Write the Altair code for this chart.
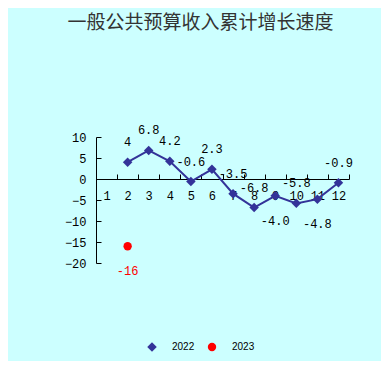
import altair as alt
import pandas as pd

title_text = "一般公共预算收入累计增长速度"
months = list(range(1, 13))
months_2022 = [2, 3, 4, 5, 6, 7, 8, 9, 10, 11, 12]
values_2022 = [4, 6.8, 4.2, -0.6, 2.3, -3.5, -6.8, -4.0, -5.8, -4.8, -0.9]
labels_2022 = ["4", "6.8", "4.2", "-0.6", "2.3", "-3.5", "-6.8", "-4.0", "-5.8", "-4.8", "-0.9"]
months_2023 = [2]
values_2023 = [-16]
labels_2023 = ["-16"]
below_2022 = [9, 11]
series_names = ["2022", "2023"]
series_colors = ["#333399", "#ff0000"]
month_ticks = [0.5 + i for i in range(13)]
y_ticks = [-20, -15, -10, -5, 0, 5, 10]

rows = []
for m, v, l in zip(months_2022, values_2022, labels_2022):
    rows.append(dict(month=m, value=v, label=l, series="2022", below=m in below_2022))
for m, v, l in zip(months_2023, values_2023, labels_2023):
    rows.append(dict(month=m, value=v, label=l, series="2023", below=True))
df = pd.DataFrame(rows)

W, H = 253, 126
NUM_FONT = "Liberation Mono"
x_scale = alt.Scale(domain=[0.5, 12.5], nice=False, zero=False)

# axis line + upward ticks at the category boundaries
x_axis_ticks = alt.Axis(
    orient="top", offset=-42, values=month_ticks, tickSize=5, tickColor="black",
    tickWidth=1, domainColor="black", domainWidth=1, grid=False, title=None,
    labels=False,
)
# category labels under the zero line
x_axis_labels = alt.Axis(
    orient="bottom", offset=-84, values=months, ticks=False, tickSize=0, domain=False,
    grid=False, title=None, labelPadding=11, labelFont=NUM_FONT, labelFontSize=12,
    labelColor="black", labelFlush=False, labelOverlap=False, format="d",
)

y_enc = alt.Y(
    "value:Q",
    scale=alt.Scale(domain=[-20, 10], nice=False),
    axis=alt.Axis(
        orient="right", offset=-W, values=y_ticks, tickSize=5, tickColor="black",
        tickWidth=1, domainColor="black", domainWidth=1, grid=False, title=None,
        labelAlign="right", labelPadding=-15, labelFont=NUM_FONT, labelFontSize=12,
        labelColor="black",
    ),
)

# legend symbols: one closed outline = thin bar with a marker bump in the middle
diamond_path = ("M-3.9,-0.22L-0.78,-0.22L0,-1L0.78,-0.22L3.9,-0.22L3.9,0.22"
                "L0.78,0.22L0,1L-0.78,0.22L-3.9,0.22Z")
circle_path = ("M-3.9,-0.22L-0.873,-0.22A0.9,0.9,0,0,1,0.873,-0.22L3.9,-0.22L3.9,0.22"
               "L0.873,0.22A0.9,0.9,0,0,1,-0.873,0.22L-3.9,0.22Z")
legend = alt.Legend(
    orient="none", legendX=51, legendY=205, direction="horizontal", title=None,
    symbolType=alt.ExprRef(
        expr=f"datum.value === '2022' ? '{diamond_path}' : '{circle_path}'"
    ),
    symbolSize=81, symbolStrokeWidth=0, labelFont="Liberation Sans", labelFontSize=10,
    labelColor="black", labelOffset=15, columnPadding=12, padding=0,
)

base = alt.Chart(df).transform_calculate(marker="datum.series")
line = base.mark_line(strokeWidth=2).encode(
    x=alt.X("month:Q", scale=x_scale, axis=x_axis_ticks), y=y_enc,
    stroke=alt.Stroke("series:N", scale=alt.Scale(domain=series_names, range=series_colors), legend=legend),
)
points = base.mark_point(filled=True, opacity=1).encode(
    x=alt.X("month:Q", scale=x_scale, axis=x_axis_labels), y=y_enc,
    color=alt.Color("marker:N", scale=alt.Scale(domain=series_names, range=series_colors), legend=None),
    shape=alt.Shape("marker:N", scale=alt.Scale(domain=series_names, range=["diamond", "circle"]), legend=None),
    size=alt.Size("marker:N", scale=alt.Scale(domain=series_names, range=[90, 70]), legend=None),
)
label_color = alt.condition("datum.series === '2023'", alt.value("#ff0000"), alt.value("black"))
x_plain = alt.X("month:Q", scale=x_scale, axis=None)
text_above = base.transform_filter("!datum.below").mark_text(
    dy=-20, font=NUM_FONT, fontSize=12, baseline="middle"
).encode(x=x_plain, y=y_enc, text="label:N", color=label_color)
text_below = base.transform_filter("datum.below").mark_text(
    dy=25, font=NUM_FONT, fontSize=12, baseline="middle"
).encode(x=x_plain, y=y_enc, text="label:N", color=label_color)

chart = alt.layer(line, points, text_above, text_below).resolve_axis(
    x="independent"
).properties(
    width=W, height=H,
    title=alt.TitleParams(
        title_text, font="Noto Sans CJK SC", fontSize=19, fontWeight="normal",
        color="#333333", anchor="middle", dx=-22, offset=91,
    ),
    padding={"left": 88, "top": 129, "right": 32, "bottom": 98},
    autosize=alt.AutoSizeParams(type="none"),
).configure(background="#ccffff").configure_view(stroke=None)

chart.save("out.html", embed_options={"renderer": "svg", "actions": False})
